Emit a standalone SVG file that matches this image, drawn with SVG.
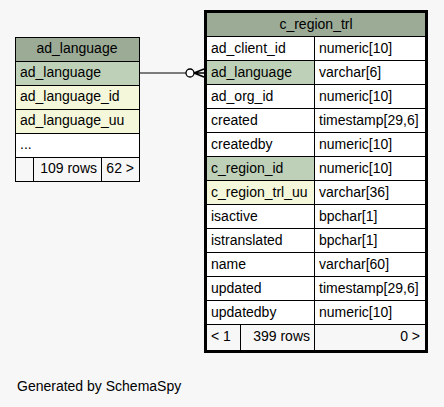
<svg xmlns="http://www.w3.org/2000/svg" width="444" height="407" viewBox="0 0 444 407">
<style>
text{font-family:"Liberation Sans",Arial,sans-serif;font-size:14px;fill:#000}
.hd{fill:#9bab96}.pk{fill:#bed1b8}.ix{fill:#f4f7da}.w{fill:#ffffff}.ft{fill:#f7f7f7}
.c{text-anchor:middle}.e{text-anchor:end}
</style>
<rect width="444" height="407" fill="#f7f7f7"/>
<g id="connectors">
<line x1="139" y1="73" x2="186" y2="73" stroke="#000" stroke-width="1"/>
<circle cx="190" cy="73" r="4" fill="#fff" stroke="#000" stroke-width="1.3"/>
<path d="M194,73 L204,69 M194,73 L204,73 M194,73 L204,77" stroke="#000" stroke-width="1.6" fill="none"/>
</g>
<g id="ad_language">
<rect x="15" y="37" width="125" height="145" fill="#000"/>
<rect class="hd" x="16" y="38" width="123" height="23"/>
<rect class="pk" x="16" y="62" width="123" height="23"/>
<rect class="ix" x="16" y="86" width="123" height="23"/>
<rect class="ix" x="16" y="110" width="123" height="23"/>
<rect class="w" x="16" y="134" width="123" height="23"/>
<rect class="ft" x="16" y="158" width="17" height="23"/>
<rect class="ft" x="34" y="158" width="67" height="23"/>
<rect class="ft" x="102" y="158" width="37" height="23"/>
<text class="c" x="77" y="53">ad_language</text>
<text x="20" y="77">ad_language</text>
<text x="20" y="101">ad_language_id</text>
<text x="20" y="125">ad_language_uu</text>
<text x="20" y="149">...</text>
<text class="e" x="97" y="173">109 rows</text>
<text class="e" x="134" y="173">62 &gt;</text>
</g>
<g id="c_region_trl">
<rect x="204" y="10" width="224" height="343" fill="#000"/>
<rect class="hd" x="207" y="13" width="218" height="23"/>
<rect class="w" x="207" y="37" width="107" height="23"/><rect class="w" x="315" y="37" width="110" height="23"/>
<rect class="pk" x="207" y="61" width="107" height="23"/><rect class="w" x="315" y="61" width="110" height="23"/>
<rect class="w" x="207" y="85" width="107" height="23"/><rect class="w" x="315" y="85" width="110" height="23"/>
<rect class="w" x="207" y="109" width="107" height="23"/><rect class="w" x="315" y="109" width="110" height="23"/>
<rect class="w" x="207" y="133" width="107" height="23"/><rect class="w" x="315" y="133" width="110" height="23"/>
<rect class="pk" x="207" y="157" width="107" height="23"/><rect class="w" x="315" y="157" width="110" height="23"/>
<rect class="ix" x="207" y="181" width="107" height="23"/><rect class="w" x="315" y="181" width="110" height="23"/>
<rect class="w" x="207" y="205" width="107" height="23"/><rect class="w" x="315" y="205" width="110" height="23"/>
<rect class="w" x="207" y="229" width="107" height="23"/><rect class="w" x="315" y="229" width="110" height="23"/>
<rect class="w" x="207" y="253" width="107" height="23"/><rect class="w" x="315" y="253" width="110" height="23"/>
<rect class="w" x="207" y="277" width="107" height="23"/><rect class="w" x="315" y="277" width="110" height="23"/>
<rect class="w" x="207" y="301" width="107" height="23"/><rect class="w" x="315" y="301" width="110" height="23"/>
<rect class="ft" x="207" y="325" width="33" height="25"/>
<rect class="ft" x="241" y="325" width="73" height="25"/>
<rect class="ft" x="315" y="325" width="110" height="25"/>
<text class="c" x="316" y="29">c_region_trl</text>
<text x="211" y="53">ad_client_id</text><text x="319" y="53">numeric[10]</text>
<text x="211" y="77">ad_language</text><text x="319" y="77">varchar[6]</text>
<text x="211" y="101">ad_org_id</text><text x="319" y="101">numeric[10]</text>
<text x="211" y="125">created</text><text x="319" y="125">timestamp[29,6]</text>
<text x="211" y="149">createdby</text><text x="319" y="149">numeric[10]</text>
<text x="211" y="173">c_region_id</text><text x="319" y="173">numeric[10]</text>
<text x="211" y="197">c_region_trl_uu</text><text x="319" y="197">varchar[36]</text>
<text x="211" y="221">isactive</text><text x="319" y="221">bpchar[1]</text>
<text x="211" y="245">istranslated</text><text x="319" y="245">bpchar[1]</text>
<text x="211" y="269">name</text><text x="319" y="269">varchar[60]</text>
<text x="211" y="293">updated</text><text x="319" y="293">timestamp[29,6]</text>
<text x="211" y="317">updatedby</text><text x="319" y="317">numeric[10]</text>
<text x="211" y="341">&lt; 1</text>
<text class="e" x="310" y="341">399 rows</text>
<text class="e" x="420" y="341">0 &gt;</text>
</g>
<text x="17" y="391">Generated by SchemaSpy</text>
</svg>
